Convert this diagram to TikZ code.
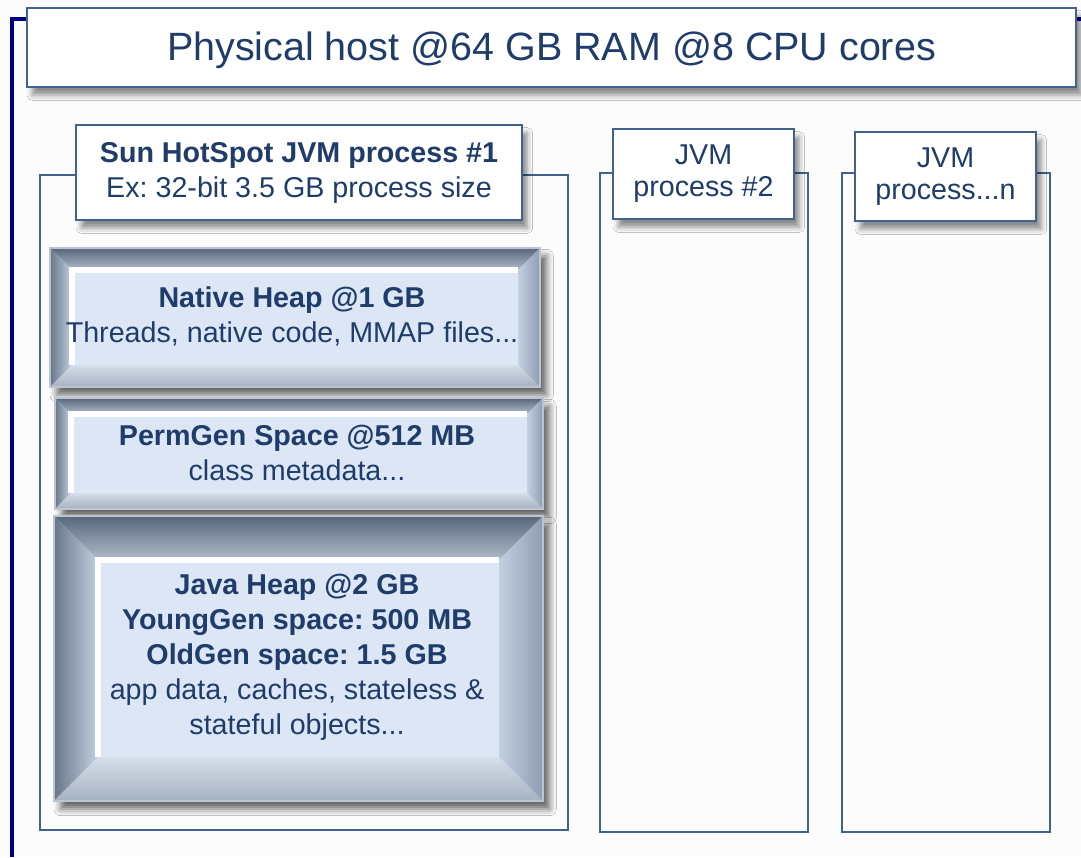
\documentclass[tikz,border=0pt]{standalone}
\usepackage{fontspec}
\setmainfont{Liberation Sans}
\frenchspacing
\usetikzlibrary{calc,fit,shadows.blur}

\definecolor{hostnavy}{HTML}{00007F}
\definecolor{boxline}{HTML}{41628F}
\definecolor{textnavy}{HTML}{1F3C6B}
\definecolor{heapface}{HTML}{DCE6F4}
\definecolor{bevdark}{HTML}{58677C}
\definecolor{bevmid}{HTML}{8E9DB2}
\definecolor{bevlight}{HTML}{C3D0E1}
\definecolor{pagebg}{HTML}{FCFCFC}

\newcommand{\bodyfont}{\fontsize{21.5}{26.25}\selectfont}
\newcommand{\smallbody}{\fontsize{21.5}{24}\selectfont}

% bevelled heap area: name, x1, y1, x2, y2, bevel
\newcommand{\bevelbox}[6]{%
  \node[heapbox, fit={(#2,#3) (#4,#5)}] (#1) {};
  \shade[top color=bevdark, bottom color=bevlight!90!black] (#2,#3) -- (#4,#3) -- (#4-#6,#3+#6) -- (#2+#6,#3+#6) -- cycle;
  \shade[left color=bevdark!90!white, right color=bevlight] (#2,#3) -- (#2+#6,#3+#6) -- (#2+#6,#5-#6) -- (#2,#5) -- cycle;
  \shade[left color=bevlight, right color=bevmid] (#4,#3) -- (#4-#6,#3+#6) -- (#4-#6,#5-#6) -- (#4,#5) -- cycle;
  \shade[top color=bevlight!70!white, bottom color=bevlight!85!black] (#2,#5) -- (#2+#6,#5-#6) -- (#4-#6,#5-#6) -- (#4,#5) -- cycle;
  \draw[white, line width=4pt] (#2+#6,#5-#6) -- (#2+#6,#3+#6) -- (#4-#6,#3+#6);
  \draw[bevmid!60!white, line width=1pt] (#2,#3) rectangle (#4,#5);
}

\tikzset{
  labelbox/.style={draw=boxline, line width=1.5pt, fill=white, inner sep=0pt,
    blur shadow={shadow xshift=4pt, shadow yshift=-6pt, shadow blur radius=4pt, shadow opacity=45}},
  procframe/.style={draw=boxline, line width=1.4pt, inner sep=0pt},
  heapbox/.style={draw=bevmid, line width=1pt, fill=heapface, inner sep=0pt,
    blur shadow={shadow xshift=5pt, shadow yshift=-6pt, shadow blur radius=5pt, shadow opacity=60}},
  boxtext/.style={text=textnavy, align=center, inner sep=0pt, font=\bodyfont},
}

\begin{document}
\begin{tikzpicture}[x=0.75pt, y=-0.75pt]
  \useasboundingbox (0,0) rectangle (1081,857);
  \fill[pagebg] (0,0) rectangle (1081,857);

  % physical host
  \draw[hostnavy, line width=3pt] (12,857) -- (12,19) -- (1081,19);
  \node[labelbox, fit={(27,8) (1076,87)}] (host) {};
  \node[boxtext, font=\fontsize{29.6}{34}\selectfont] (hosttext) at ([yshift=-2pt]host.center) {Physical host @64 GB RAM @8 CPU cores};

  % process frames
  \node[procframe, fit={(40,175) (568,830)}] (jvmone) {};
  \node[procframe, fit={(600,173) (808,832)}] (jvmtwo) {};
  \node[procframe, fit={(842,173) (1050,832)}] (jvmn) {};

  \node[labelbox, fit={(76,125) (522,220)}] (jvmonelabel) {};
  \node[labelbox, fit={(613,129) (794,219)}] (jvmtwolabel) {};
  \node[labelbox, fit={(855,132) (1036,221)}] (jvmnlabel) {};
  \node[boxtext] (jvmonetext) at (jvmonelabel)
    {\textbf{Sun HotSpot JVM process \#1}\\Ex: 32-bit 3.5 GB process size};
  \node[boxtext, font=\smallbody] (jvmtwotext) at (jvmtwolabel) {JVM\\process \#2};
  \node[boxtext, font=\smallbody] (jvmntext) at (jvmnlabel) {JVM\\process...n};

  % heap areas
  \bevelbox{native}{50}{248}{540}{387}{22}
  \bevelbox{permgen}{55}{398}{543}{509}{16}
  \bevelbox{javaheap}{54}{516}{543}{801}{44}

  \node[boxtext] (nativetext) at (292,316)
    {\textbf{Native Heap @1 GB}\\Threads, native code, MMAP files...};
  \node[boxtext] (permgentext) at (297,453)
    {\textbf{PermGen Space @512 MB}\\class metadata...};
  \node[boxtext] (javaheaptext) at (297,657)
    {\textbf{Java Heap @2 GB}\\\textbf{YoungGen space: 500 MB}\\\textbf{OldGen space: 1.5 GB}\\app data, caches, stateless \&\\stateful objects...};
\end{tikzpicture}
\end{document}
